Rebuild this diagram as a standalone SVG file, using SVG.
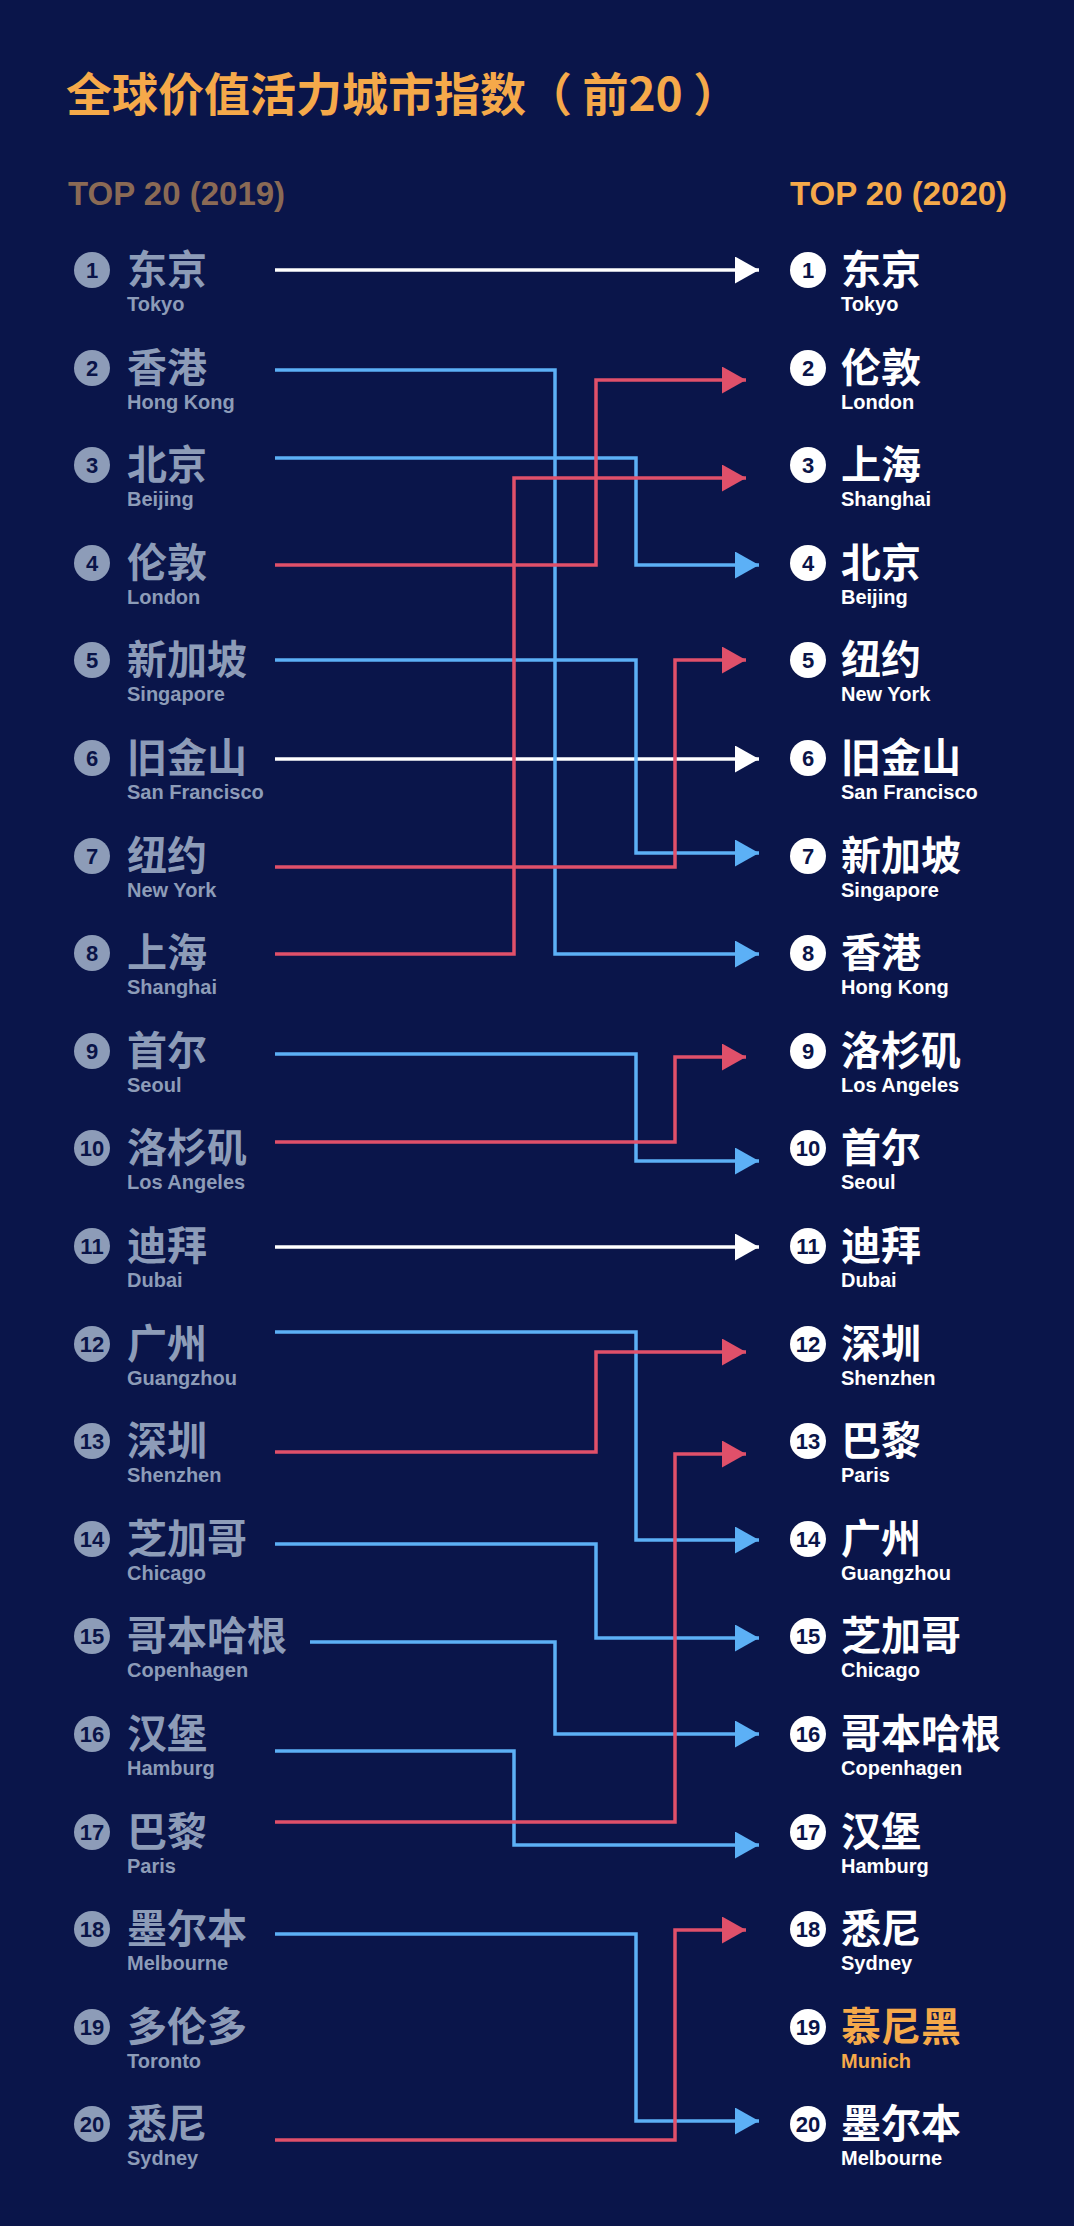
<svg xmlns="http://www.w3.org/2000/svg" width="1074" height="2226" viewBox="0 0 1074 2226">
<defs>
<style>
.zh{font-family:"Noto Sans CJK SC",sans-serif;font-weight:700;font-size:40px}
.en{font-family:"Liberation Sans",sans-serif;font-weight:700;font-size:20px}
.num{font-family:"Liberation Sans",sans-serif;font-weight:700;font-size:22px;text-anchor:middle;fill:#0a1448}
.L .zh,.L .en{fill:#8d9cb8}
.L circle{fill:#8d9cb8}
.R .zh,.R .en{fill:#ffffff}
.R circle{fill:#ffffff}
.R.gold .zh,.R.gold .en{fill:#f5a94a}
.c{fill:none;stroke-width:3.5}
.b{stroke:#5cb0f6}.r{stroke:#e0506a}.w{stroke:#ffffff}
</style>
<marker id="mb" markerUnits="userSpaceOnUse" markerWidth="26" markerHeight="28" refX="24" refY="13.5" orient="auto"><path d="M0,0L24,13.5L0,27z" fill="#5cb0f6"/></marker>
<marker id="mr" markerUnits="userSpaceOnUse" markerWidth="26" markerHeight="28" refX="24" refY="13.5" orient="auto"><path d="M0,0L24,13.5L0,27z" fill="#e0506a"/></marker>
<marker id="mw" markerUnits="userSpaceOnUse" markerWidth="26" markerHeight="28" refX="24" refY="13.5" orient="auto"><path d="M0,0L24,13.5L0,27z" fill="#ffffff"/></marker>
</defs>
<rect width="1074" height="2226" fill="#0a154a"/>
<text x="66" y="111" font-family="Noto Sans CJK SC,sans-serif" font-weight="700" font-size="46" fill="#f5a94a">全球价值活力城市指数（ 前20 ）</text>
<text x="68" y="205" font-family="Liberation Sans,sans-serif" font-weight="700" font-size="33" fill="#8a6a55">TOP 20 (2019)</text>
<text x="790" y="205" font-family="Liberation Sans,sans-serif" font-weight="700" font-size="33" fill="#f5a94a">TOP 20 (2020)</text>

<g id="connectors">
<path class="c w" d="M275,270H759" marker-end="url(#mw)"/>
<path class="c w" d="M275,759H759" marker-end="url(#mw)"/>
<path class="c w" d="M275,1247H759" marker-end="url(#mw)"/>
<path class="c b" d="M275,370H555V954H759" marker-end="url(#mb)"/>
<path class="c b" d="M275,458H636V565H759" marker-end="url(#mb)"/>
<path class="c b" d="M275,660H636V853H759" marker-end="url(#mb)"/>
<path class="c b" d="M275,1054H636V1161H759" marker-end="url(#mb)"/>
<path class="c b" d="M275,1332H636V1540H759" marker-end="url(#mb)"/>
<path class="c b" d="M275,1544H596V1638H759" marker-end="url(#mb)"/>
<path class="c b" d="M310,1642H555V1734H759" marker-end="url(#mb)"/>
<path class="c b" d="M275,1751H514V1845H759" marker-end="url(#mb)"/>
<path class="c b" d="M275,1934H636V2121H759" marker-end="url(#mb)"/>
<path class="c r" d="M275,565H596V380H746" marker-end="url(#mr)"/>
<path class="c r" d="M275,954H514V478H746" marker-end="url(#mr)"/>
<path class="c r" d="M275,867H675V660H746" marker-end="url(#mr)"/>
<path class="c r" d="M275,1142H675V1057H746" marker-end="url(#mr)"/>
<path class="c r" d="M275,1452H596V1352H746" marker-end="url(#mr)"/>
<path class="c r" d="M275,1822H675V1454H746" marker-end="url(#mr)"/>
<path class="c r" d="M275,2140H675V1930H746" marker-end="url(#mr)"/>
</g>

<g id="l1" class="L"><circle cx="92" cy="270" r="18"/><text class="num" x="92" y="278">1</text><text class="zh" x="127" y="284">东京</text><text class="en" x="127" y="311">Tokyo</text></g>
<g id="l2" class="L"><circle cx="92" cy="368" r="18"/><text class="num" x="92" y="376">2</text><text class="zh" x="127" y="382">香港</text><text class="en" x="127" y="409">Hong Kong</text></g>
<g id="l3" class="L"><circle cx="92" cy="465" r="18"/><text class="num" x="92" y="473">3</text><text class="zh" x="127" y="479">北京</text><text class="en" x="127" y="506">Beijing</text></g>
<g id="l4" class="L"><circle cx="92" cy="563" r="18"/><text class="num" x="92" y="571">4</text><text class="zh" x="127" y="577">伦敦</text><text class="en" x="127" y="604">London</text></g>
<g id="l5" class="L"><circle cx="92" cy="660" r="18"/><text class="num" x="92" y="668">5</text><text class="zh" x="127" y="674">新加坡</text><text class="en" x="127" y="701">Singapore</text></g>
<g id="l6" class="L"><circle cx="92" cy="758" r="18"/><text class="num" x="92" y="766">6</text><text class="zh" x="127" y="772">旧金山</text><text class="en" x="127" y="799">San Francisco</text></g>
<g id="l7" class="L"><circle cx="92" cy="856" r="18"/><text class="num" x="92" y="864">7</text><text class="zh" x="127" y="870">纽约</text><text class="en" x="127" y="897">New York</text></g>
<g id="l8" class="L"><circle cx="92" cy="953" r="18"/><text class="num" x="92" y="961">8</text><text class="zh" x="127" y="967">上海</text><text class="en" x="127" y="994">Shanghai</text></g>
<g id="l9" class="L"><circle cx="92" cy="1051" r="18"/><text class="num" x="92" y="1059">9</text><text class="zh" x="127" y="1065">首尔</text><text class="en" x="127" y="1092">Seoul</text></g>
<g id="l10" class="L"><circle cx="92" cy="1148" r="18"/><text class="num" x="92" y="1156">10</text><text class="zh" x="127" y="1162">洛杉矶</text><text class="en" x="127" y="1189">Los Angeles</text></g>
<g id="l11" class="L"><circle cx="92" cy="1246" r="18"/><text class="num" x="92" y="1254">11</text><text class="zh" x="127" y="1260">迪拜</text><text class="en" x="127" y="1287">Dubai</text></g>
<g id="l12" class="L"><circle cx="92" cy="1344" r="18"/><text class="num" x="92" y="1352">12</text><text class="zh" x="127" y="1358">广州</text><text class="en" x="127" y="1385">Guangzhou</text></g>
<g id="l13" class="L"><circle cx="92" cy="1441" r="18"/><text class="num" x="92" y="1449">13</text><text class="zh" x="127" y="1455">深圳</text><text class="en" x="127" y="1482">Shenzhen</text></g>
<g id="l14" class="L"><circle cx="92" cy="1539" r="18"/><text class="num" x="92" y="1547">14</text><text class="zh" x="127" y="1553">芝加哥</text><text class="en" x="127" y="1580">Chicago</text></g>
<g id="l15" class="L"><circle cx="92" cy="1636" r="18"/><text class="num" x="92" y="1644">15</text><text class="zh" x="127" y="1650">哥本哈根</text><text class="en" x="127" y="1677">Copenhagen</text></g>
<g id="l16" class="L"><circle cx="92" cy="1734" r="18"/><text class="num" x="92" y="1742">16</text><text class="zh" x="127" y="1748">汉堡</text><text class="en" x="127" y="1775">Hamburg</text></g>
<g id="l17" class="L"><circle cx="92" cy="1832" r="18"/><text class="num" x="92" y="1840">17</text><text class="zh" x="127" y="1846">巴黎</text><text class="en" x="127" y="1873">Paris</text></g>
<g id="l18" class="L"><circle cx="92" cy="1929" r="18"/><text class="num" x="92" y="1937">18</text><text class="zh" x="127" y="1943">墨尔本</text><text class="en" x="127" y="1970">Melbourne</text></g>
<g id="l19" class="L"><circle cx="92" cy="2027" r="18"/><text class="num" x="92" y="2035">19</text><text class="zh" x="127" y="2041">多伦多</text><text class="en" x="127" y="2068">Toronto</text></g>
<g id="l20" class="L"><circle cx="92" cy="2124" r="18"/><text class="num" x="92" y="2132">20</text><text class="zh" x="127" y="2138">悉尼</text><text class="en" x="127" y="2165">Sydney</text></g>

<g id="r1" class="R"><circle cx="808" cy="270" r="18"/><text class="num" x="808" y="278">1</text><text class="zh" x="841" y="284">东京</text><text class="en" x="841" y="311">Tokyo</text></g>
<g id="r2" class="R"><circle cx="808" cy="368" r="18"/><text class="num" x="808" y="376">2</text><text class="zh" x="841" y="382">伦敦</text><text class="en" x="841" y="409">London</text></g>
<g id="r3" class="R"><circle cx="808" cy="465" r="18"/><text class="num" x="808" y="473">3</text><text class="zh" x="841" y="479">上海</text><text class="en" x="841" y="506">Shanghai</text></g>
<g id="r4" class="R"><circle cx="808" cy="563" r="18"/><text class="num" x="808" y="571">4</text><text class="zh" x="841" y="577">北京</text><text class="en" x="841" y="604">Beijing</text></g>
<g id="r5" class="R"><circle cx="808" cy="660" r="18"/><text class="num" x="808" y="668">5</text><text class="zh" x="841" y="674">纽约</text><text class="en" x="841" y="701">New York</text></g>
<g id="r6" class="R"><circle cx="808" cy="758" r="18"/><text class="num" x="808" y="766">6</text><text class="zh" x="841" y="772">旧金山</text><text class="en" x="841" y="799">San Francisco</text></g>
<g id="r7" class="R"><circle cx="808" cy="856" r="18"/><text class="num" x="808" y="864">7</text><text class="zh" x="841" y="870">新加坡</text><text class="en" x="841" y="897">Singapore</text></g>
<g id="r8" class="R"><circle cx="808" cy="953" r="18"/><text class="num" x="808" y="961">8</text><text class="zh" x="841" y="967">香港</text><text class="en" x="841" y="994">Hong Kong</text></g>
<g id="r9" class="R"><circle cx="808" cy="1051" r="18"/><text class="num" x="808" y="1059">9</text><text class="zh" x="841" y="1065">洛杉矶</text><text class="en" x="841" y="1092">Los Angeles</text></g>
<g id="r10" class="R"><circle cx="808" cy="1148" r="18"/><text class="num" x="808" y="1156">10</text><text class="zh" x="841" y="1162">首尔</text><text class="en" x="841" y="1189">Seoul</text></g>
<g id="r11" class="R"><circle cx="808" cy="1246" r="18"/><text class="num" x="808" y="1254">11</text><text class="zh" x="841" y="1260">迪拜</text><text class="en" x="841" y="1287">Dubai</text></g>
<g id="r12" class="R"><circle cx="808" cy="1344" r="18"/><text class="num" x="808" y="1352">12</text><text class="zh" x="841" y="1358">深圳</text><text class="en" x="841" y="1385">Shenzhen</text></g>
<g id="r13" class="R"><circle cx="808" cy="1441" r="18"/><text class="num" x="808" y="1449">13</text><text class="zh" x="841" y="1455">巴黎</text><text class="en" x="841" y="1482">Paris</text></g>
<g id="r14" class="R"><circle cx="808" cy="1539" r="18"/><text class="num" x="808" y="1547">14</text><text class="zh" x="841" y="1553">广州</text><text class="en" x="841" y="1580">Guangzhou</text></g>
<g id="r15" class="R"><circle cx="808" cy="1636" r="18"/><text class="num" x="808" y="1644">15</text><text class="zh" x="841" y="1650">芝加哥</text><text class="en" x="841" y="1677">Chicago</text></g>
<g id="r16" class="R"><circle cx="808" cy="1734" r="18"/><text class="num" x="808" y="1742">16</text><text class="zh" x="841" y="1748">哥本哈根</text><text class="en" x="841" y="1775">Copenhagen</text></g>
<g id="r17" class="R"><circle cx="808" cy="1832" r="18"/><text class="num" x="808" y="1840">17</text><text class="zh" x="841" y="1846">汉堡</text><text class="en" x="841" y="1873">Hamburg</text></g>
<g id="r18" class="R"><circle cx="808" cy="1929" r="18"/><text class="num" x="808" y="1937">18</text><text class="zh" x="841" y="1943">悉尼</text><text class="en" x="841" y="1970">Sydney</text></g>
<g id="r19" class="R gold"><circle cx="808" cy="2027" r="18"/><text class="num" x="808" y="2035">19</text><text class="zh" x="841" y="2041">慕尼黑</text><text class="en" x="841" y="2068">Munich</text></g>
<g id="r20" class="R"><circle cx="808" cy="2124" r="18"/><text class="num" x="808" y="2132">20</text><text class="zh" x="841" y="2138">墨尔本</text><text class="en" x="841" y="2165">Melbourne</text></g>
</svg>
